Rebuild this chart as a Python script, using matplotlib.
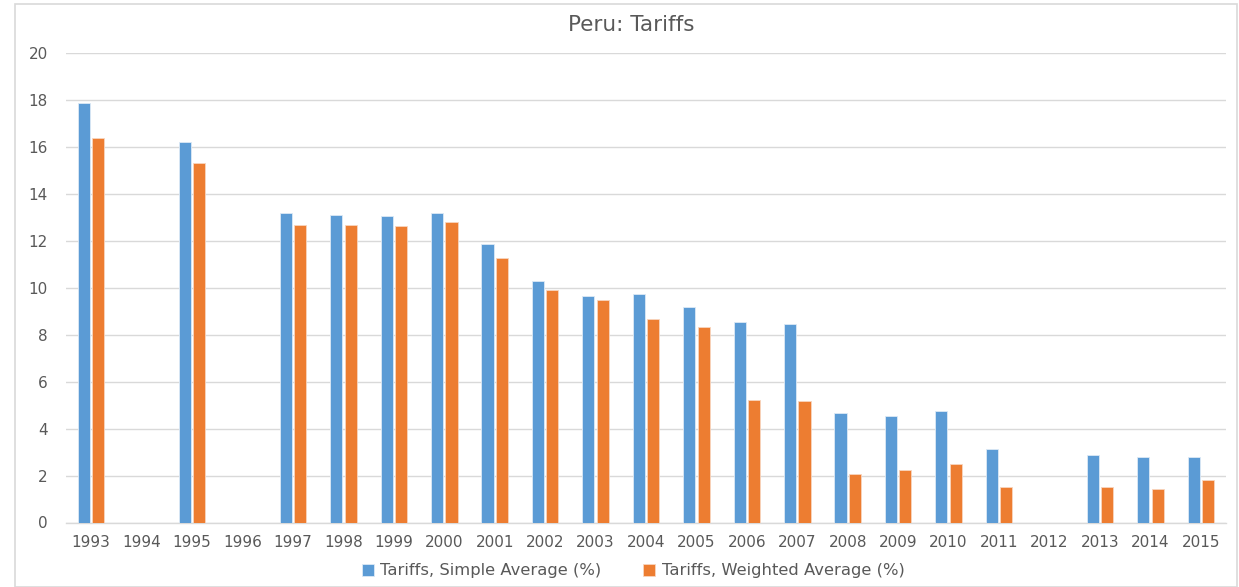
import numpy as np
import matplotlib
matplotlib.use("Agg")
import matplotlib.pyplot as plt
from matplotlib.patches import Rectangle

years = ["1993", "1994", "1995", "1996", "1997", "1998", "1999", "2000", "2001", "2002",
         "2003", "2004", "2005", "2006", "2007", "2008", "2009", "2010", "2011", "2012",
         "2013", "2014", "2015"]
simple_avg = [17.89, np.nan, 16.22, np.nan, 13.18, 13.11, 13.06, 13.18, 11.86, 10.29,
              9.67, 9.73, 9.18, 8.53, 8.46, 4.68, 4.53, 4.74, 3.12, np.nan,
              2.87, 2.79, 2.79]
weighted_avg = [16.38, np.nan, 15.32, np.nan, 12.67, 12.69, 12.64, 12.80, 11.29, 9.91,
                9.49, 8.68, 8.32, 5.22, 5.17, 2.07, 2.23, 2.51, 1.50, np.nan,
                1.50, 1.42, 1.80]
series_names = ["Tariffs, Simple Average (%)", "Tariffs, Weighted Average (%)"]
title = "Peru: Tariffs"
yticks = [0, 2, 4, 6, 8, 10, 12, 14, 16, 18, 20]

plt.rcParams['font.family'] = ['DejaVu Sans']
W, H = 1239, 587
fig = plt.figure(figsize=(W / 100, H / 100), dpi=100)
fig.patch.set_facecolor('white')

# outer chart frame
fig.patches.append(Rectangle((15 / W, 0), (W - 17) / W, (H - 4) / H, transform=fig.transFigure,
                             fill=False, edgecolor='#D9D9D9', linewidth=1.2))

left, right = 66 / W, 1226 / W
bottom, top = 1 - 522.5 / H, 1 - 53.3 / H
ax = fig.add_axes([left, bottom, right - left, top - bottom])

x = np.arange(len(years))
bw = 0.24
off = 0.143
blue = '#5B9BD5'
orange = '#ED7D31'
ax.bar(x - off, simple_avg, width=bw, color=blue, edgecolor='#DCE9F6', linewidth=0.6,
       label=series_names[0], zorder=3)
ax.bar(x + off, weighted_avg, width=bw, color=orange, edgecolor='#F8D5BF', linewidth=0.6,
       label=series_names[1], zorder=3)

ax.set_xlim(-0.5, len(years) - 0.5)
ax.set_ylim(0, 20)
ax.set_yticks(yticks)
ax.set_xticks(x)
ax.set_xticklabels(years)
ax.yaxis.grid(True, color='#D9D9D9', linewidth=1.0, zorder=0)
ax.set_axisbelow(True)
for s in ['top', 'right', 'left']:
    ax.spines[s].set_visible(False)
ax.spines['bottom'].set_color('#D9D9D9')
ax.spines['bottom'].set_linewidth(1.0)
ax.tick_params(axis='both', length=0, labelsize=11, labelcolor='#595959')
ax.tick_params(axis='y', pad=13)
ax.tick_params(axis='x', pad=9)

fig.text(631 / W, 1 - 25 / H, title, ha='center', va='center', fontsize=15.5, color='#595959')

handles, labels = ax.get_legend_handles_labels()
fig.legend(handles, labels, loc='center', bbox_to_anchor=(633 / W, 1 - 571 / H), ncol=2,
           frameon=False, fontsize=11.8, labelcolor='#595959', handlelength=0.75,
           handleheight=0.75, handletextpad=0.4, columnspacing=2.5)

fig.savefig('out.png', dpi=100, facecolor='white')
